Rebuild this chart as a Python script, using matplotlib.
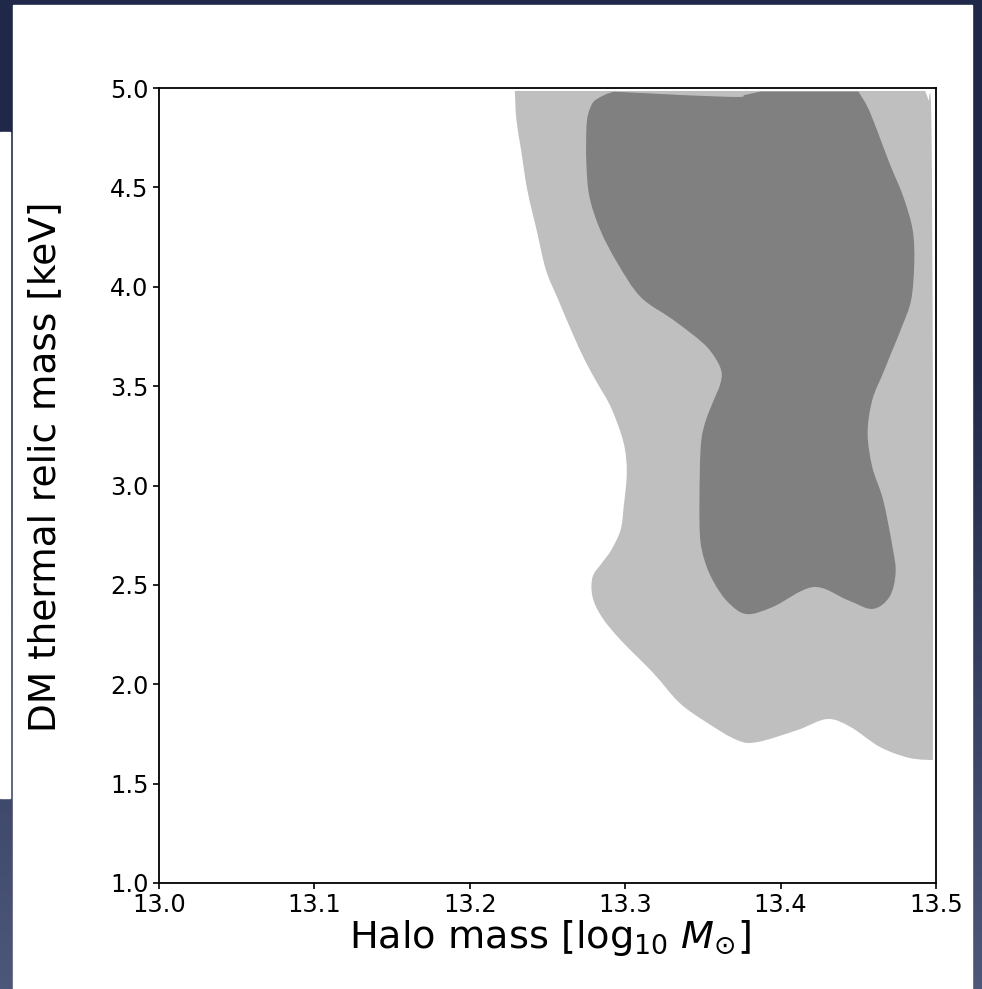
import numpy as np
import matplotlib
matplotlib.use('Agg')
import matplotlib.pyplot as plt
from matplotlib.patches import Rectangle, PathPatch
from matplotlib.path import Path

# outer (light) credible region: halo mass, relic mass
outer_mass = [13.229, 13.230, 13.233, 13.237, 13.243, 13.249, 13.257, 13.266, 13.274,
              13.282, 13.291, 13.299, 13.301, 13.299, 13.297, 13.291, 13.285, 13.279,
              13.279, 13.285, 13.297, 13.318, 13.335, 13.353, 13.372, 13.385, 13.411,
              13.430, 13.445, 13.464, 13.483, 13.498, 13.498, 13.497, 13.495, 13.493]
outer_relic = [4.985, 4.839, 4.688, 4.487, 4.285, 4.084, 3.933, 3.767, 3.631,
               3.516, 3.390, 3.214, 3.063, 2.892, 2.776, 2.675, 2.610, 2.540,
               2.439, 2.338, 2.223, 2.057, 1.906, 1.805, 1.719, 1.709, 1.770,
               1.825, 1.785, 1.684, 1.629, 1.619, 3.430, 4.839, 4.940, 4.985]
outer_corners = [0, 31, 35]

# inner (dark) credible region
inner_mass = [13.290, 13.283, 13.279, 13.276, 13.275, 13.275, 13.277, 13.284, 13.295,
              13.310, 13.331, 13.350, 13.358, 13.362, 13.361, 13.357, 13.352, 13.349,
              13.348, 13.348, 13.351, 13.357, 13.366, 13.378, 13.395, 13.421, 13.443,
              13.459, 13.470, 13.474, 13.472, 13.466, 13.459, 13.456, 13.459, 13.466,
              13.472, 13.478, 13.484, 13.486, 13.485, 13.479, 13.470, 13.462, 13.456,
              13.450, 13.387, 13.377, 13.372, 13.335, 13.297]
inner_relic = [4.975, 4.950, 4.924, 4.864, 4.789, 4.623, 4.452, 4.285, 4.119,
               3.948, 3.833, 3.717, 3.641, 3.571, 3.506, 3.430, 3.330, 3.229,
               3.063, 2.761, 2.625, 2.514, 2.414, 2.353, 2.389, 2.489, 2.424,
               2.379, 2.439, 2.560, 2.691, 2.927, 3.093, 3.264, 3.430, 3.566,
               3.682, 3.797, 3.933, 4.119, 4.285, 4.452, 4.623, 4.789, 4.904,
               4.982, 4.982, 4.965, 4.955, 4.965, 4.980]
inner_corners = [45, 46]

xticks = [13.0, 13.1, 13.2, 13.3, 13.4, 13.5]
yticks = [1.0, 1.5, 2.0, 2.5, 3.0, 3.5, 4.0, 4.5, 5.0]


def smooth_outline(xs, ys, corners):
    # closed curve through the traced points (catmull-rom as bezier segments)
    p = np.column_stack([xs, ys])
    n = len(p)
    tang = (np.roll(p, -1, axis=0) - np.roll(p, 1, axis=0)) / 2
    tang[corners] = 0
    verts = [p[0]]
    codes = [Path.MOVETO]
    for i in range(n):
        j = (i + 1) % n
        verts += [p[i] + tang[i] / 3, p[j] - tang[j] / 3, p[j]]
        codes += [Path.CURVE4] * 3
    verts.append(p[0])
    codes.append(Path.CLOSEPOLY)
    return Path(verts, codes)


fig = plt.figure(figsize=(9.82, 9.89), dpi=100, facecolor='#1f2848')

# slide background behind the figure
bg = fig.add_axes([0, 0, 1, 1], zorder=-10)
grad = np.linspace(0, 1, 256).reshape(-1, 1)
c_top = np.array([0x1f, 0x28, 0x48]) / 255
c_bot = np.array([0x4d, 0x57, 0x7a]) / 255
w = np.clip((grad - 0.35) / 0.65, 0, 1)
img = c_top * (1 - w[..., None]) + c_bot * w[..., None]
bg.imshow(img, aspect='auto', extent=[0, 1, 0, 1], origin='upper')
bg.add_patch(Rectangle((13 / 982, 0), (972 - 13) / 982, 1 - 5 / 989, color='white'))
bg.add_patch(Rectangle((0, 1 - 798 / 989), 10 / 982, (798 - 132) / 989, color='white'))
bg.set_xlim(0, 1)
bg.set_ylim(0, 1)
bg.axis('off')

ax = fig.add_axes([159 / 982, 1 - 883 / 989, (936 - 159) / 982, (883 - 88) / 989])
ax.add_patch(PathPatch(smooth_outline(outer_mass, outer_relic, outer_corners),
                       facecolor='#bfbfbf', lw=0))
ax.add_patch(PathPatch(smooth_outline(inner_mass, inner_relic, inner_corners),
                       facecolor='#808080', lw=0))

ax.set_xlim(13.0, 13.5)
ax.set_ylim(1.0, 5.0)
ax.set_xticks(xticks)
ax.set_yticks(yticks)
ax.tick_params(labelsize=17.3, width=1.2, length=4)
for s in ax.spines.values():
    s.set_linewidth(1.3)
ax.set_xlabel(r'Halo mass [log$_{10}$ $M_{\odot}$]', fontsize=27.5)
ax.set_ylabel('DM thermal relic mass [keV]', fontsize=27)
ax.xaxis.set_label_coords(0.503, -0.044)
ax.yaxis.set_label_coords(-0.124, 0.523)

plt.savefig('out.png', dpi=100, facecolor=fig.get_facecolor())
